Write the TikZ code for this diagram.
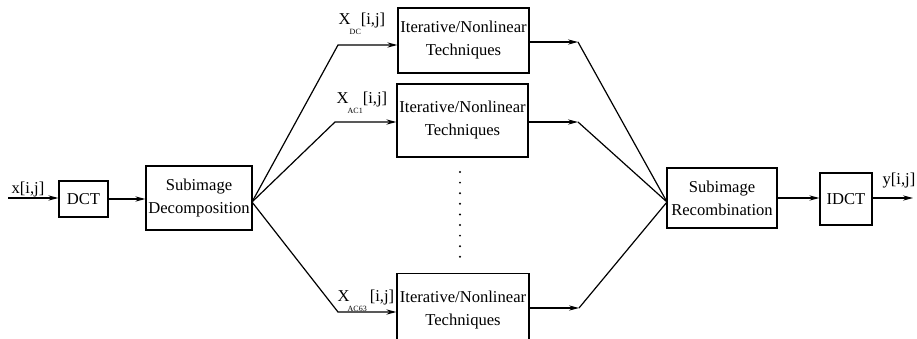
\documentclass[tikz,border=0pt]{standalone}
\usepackage{fontspec}
\setmainfont{Liberation Serif}
\usetikzlibrary{arrows.meta}

\begin{document}
\begin{tikzpicture}[x=0.5pt,y=-0.5pt,line width=0.6pt,
  blk/.style={draw, inner sep=0pt, align=center, font=\fontsize{8.3}{11.5}\selectfont},
  lbl/.style={inner sep=0pt, font=\fontsize{8.3}{10}\selectfont},
  arr/.style={-{Stealth[length=5pt,width=2.6pt]}}]
\useasboundingbox (0,0) rectangle (917,338);
\clip (0,0) rectangle (917,338);
% blocks
\node[blk, minimum width=24.5pt, minimum height=18pt] (dct) at (83.5,199){DCT};
\node[blk, minimum width=53pt, minimum height=32pt] (dec) at (199,198){Subimage\\Decomposition};
\node[blk, minimum width=65.5pt, minimum height=32.5pt] (tech1) at (463.5,40.5){Iterative/Nonlinear\\Techniques};
\node[blk, minimum width=65.5pt, minimum height=36.5pt] (tech2) at (462.5,120.5){Iterative/Nonlinear\\Techniques};
\node[blk, minimum width=66pt, minimum height=36.5pt] (tech3) at (463,310){Iterative/Nonlinear\\Techniques};
\node[blk, minimum width=55pt, minimum height=30pt] (rec) at (722,198){Subimage\\Recombination};
\node[blk, minimum width=26pt, minimum height=26pt] (idct) at (846,199){IDCT};
% labels
\node[lbl] (xin) at (28,190){x[i,j]};
\node[lbl] (yout) at (899,181){y[i,j]};
\node[lbl] (xdc) at (362,24){X\kern-0.5pt\raisebox{-1.3ex}{\fontsize{4}{4}\selectfont DC}[i,j]};
\node[lbl] (xac1) at (362,103){X\kern-0.5pt\raisebox{-1.3ex}{\fontsize{4}{4}\selectfont AC1}[i,j]};
\node[lbl] (xac63) at (366,301){X\kern-1pt\raisebox{-1.3ex}{\fontsize{4}{4}\selectfont AC63}\kern1.5pt[i,j]};
% end and corner points
\coordinate (in) at (8,198);
\coordinate (out) at (913,198);
\coordinate (fanL) at (252,202);
\coordinate (fanR) at (667,202);
\coordinate (c1) at (338,45);
\coordinate (c2) at (335,122);
\coordinate (c3) at (338,312);
\coordinate (r1) at (578,42);
\coordinate (r2) at (578,122);
\coordinate (r3) at (579,308);
% connectors
\draw[arr](in) -- (in -| dct.west);
\draw[arr](dct.east) -- (dct.east -| dec.west);
\draw[arr](fanL) -- (c1) -- (c1 -| tech1.west);
\draw[arr](fanL) -- (c2) -- (c2 -| tech2.west);
\draw[arr](fanL) -- (c3) -- (c3 -| tech3.west);
\draw[arr](r1 -| tech1.east) -- (r1);
\draw[arr](r2 -| tech2.east) -- (r2);
\draw[arr](r3 -| tech3.east) -- (r3);
\draw[](r1) -- (fanR);
\draw[](r2) -- (fanR);
\draw[](r3) -- (fanR);
\draw[arr](rec.east) -- (rec.east -| idct.west);
\draw[arr](idct.east |- out) -- (out);
% dots
\foreach \k in {0,...,8}
  \fill (460,{172+10.6*\k}) circle (0.55pt);
\end{tikzpicture}
\end{document}
